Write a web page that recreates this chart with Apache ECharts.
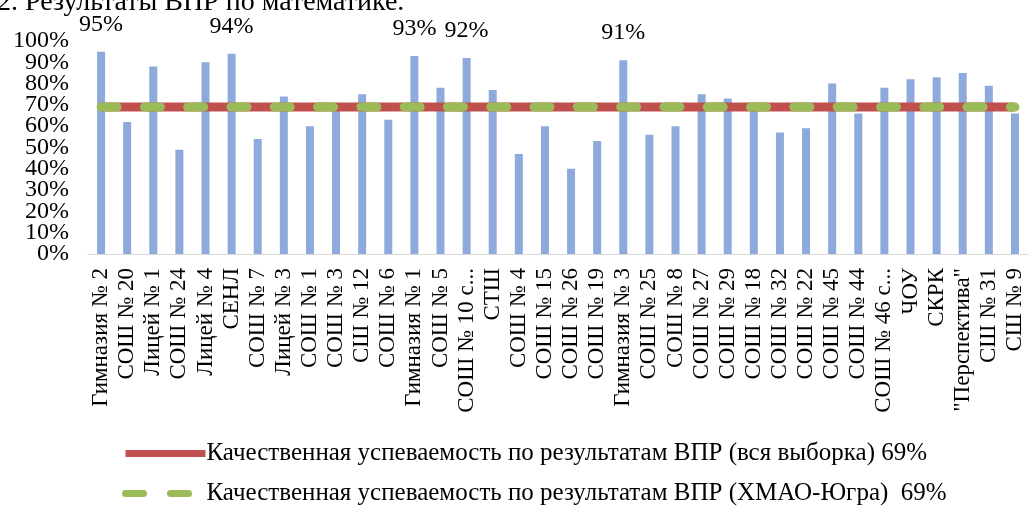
<!DOCTYPE html>
<html lang="ru">
<head>
<meta charset="UTF-8">
<title>ВПР математика</title>
<script src="https://cdn.jsdelivr.net/npm/echarts@6/dist/echarts.min.js"></script>
<style>
  body { margin: 0; padding: 0; background: #fff; }
  #chart { width: 1028px; height: 507px; }
</style>
</head>
<body>
<div id="chart"></div>
<script>
// школы (подписи по оси X)
var schools = [
  'Гимназия № 2', 'СОШ № 20', 'Лицей № 1', 'СОШ № 24', 'Лицей № 4', 'СЕНЛ',
  'СОШ № 7', 'Лицей № 3', 'СОШ № 1', 'СОШ № 3', 'СШ № 12', 'СОШ № 6',
  'Гимназия № 1', 'СОШ № 5', 'СОШ № 10 с...', 'СТШ', 'СОШ № 4', 'СОШ № 15',
  'СОШ № 26', 'СОШ № 19', 'Гимназия № 3', 'СОШ № 25', 'СОШ № 8', 'СОШ № 27',
  'СОШ № 29', 'СОШ № 18', 'СОШ № 32', 'СОШ № 22', 'СОШ № 45', 'СОШ № 44',
  'СОШ № 46 с...', 'ЧОУ', 'СКРК', '"Перспектива"', 'СШ № 31', 'СШ № 9'
];
// качественная успеваемость, %
var quality = [
  95, 62, 88, 49, 90, 94,
  54, 74, 60, 68, 75, 63,
  93, 78, 92, 77, 47, 60,
  40, 53, 91, 56, 60, 75,
  73, 69, 57, 59, 80, 66,
  78, 82, 83, 85, 79, 66
];
var avgAll = 69;   // вся выборка
var avgHmao = 69;  // ХМАО-Югра
// подписи шкалы (0..100 с шагом 10)
var yTicks = ['0%', '10%', '20%', '30%', '40%', '50%', '60%', '70%', '80%', '90%', '100%'];
var nameAll = 'Качественная успеваемость по результатам ВПР (вся выборка) 69%';
var nameHmao = 'Качественная успеваемость по результатам ВПР (ХМАО-Югра)  69%';

var font = 'Liberation Serif';
var chart = echarts.init(document.getElementById('chart'));

chart.setOption({
  animation: false,
  title: {
    text: '1.2. Результаты ВПР по математике.',
    left: -29,
    top: -16,
    textStyle: { fontFamily: font, fontSize: 28, fontWeight: 'normal', color: '#000' }
  },
  legend: {
    orient: 'vertical',
    left: 122,
    top: 441,
    height: 70,
    padding: 0,
    itemWidth: 80,
    itemHeight: 27,
    itemGap: 15,
    textStyle: { fontFamily: font, fontSize: 25, color: '#000', padding: [0, 0, 0, -4] },
    data: [
      { name: nameAll, itemStyle: { opacity: 0 }, lineStyle: { width: 7 } },
      { name: nameHmao, itemStyle: { opacity: 0 }, lineStyle: { width: 7, type: [18, 27], cap: 'round' } }
    ]
  },
  grid: { left: 88, top: 41, height: 213, width: 947 },
  xAxis: {
    type: 'category',
    data: schools,
    axisLine: { lineStyle: { color: '#D9D9D9', width: 1 } },
    axisTick: { show: false },
    axisLabel: {
      rotate: 90,
      interval: 0,
      margin: 14,
      color: '#000',
      fontFamily: font,
      fontSize: 23
    }
  },
  yAxis: [
    {
      type: 'value',
      min: 0,
      max: 100,
      interval: 10,
      axisLine: { show: false },
      axisTick: { show: false },
      splitLine: { show: false },
      axisLabel: { show: false }
    },
    {
      // отдельная ось только для подписей, чтобы все 11 были видны
      type: 'category',
      data: yTicks,
      position: 'left',
      boundaryGap: false,
      axisLine: { show: false },
      axisTick: { show: false },
      splitLine: { show: false },
      axisLabel: {
        interval: 0,
        margin: 19,
        color: '#000',
        fontFamily: font,
        fontSize: 24
      }
    }
  ],
  series: [
    {
      name: 'Школы',
      type: 'bar',
      data: quality,
      barWidth: 8,
      itemStyle: { color: '#8EAADC' },
      labelLayout: { hideOverlap: false, moveOverlap: null },
      label: {
        show: true,
        position: 'top',
        distance: 15,
        fontFamily: font,
        fontSize: 24,
        color: '#000',
        formatter: function (p) { return p.value >= 91 ? p.value + '%' : ''; }
      }
    },
    {
      name: nameAll,
      type: 'line',
      data: schools.map(function () { return avgAll; }),
      symbol: 'none',
      lineStyle: { color: '#C0504D', width: 9 },
      itemStyle: { color: '#C0504D' },
      z: 3
    },
    {
      name: nameHmao,
      type: 'line',
      data: schools.map(function () { return avgHmao; }),
      symbol: 'none',
      lineStyle: { color: '#9BBB59', width: 9, type: [16, 27.3], cap: 'round' },
      itemStyle: { color: '#9BBB59' },
      z: 4
    }
  ]
});
</script>
</body>
</html>
